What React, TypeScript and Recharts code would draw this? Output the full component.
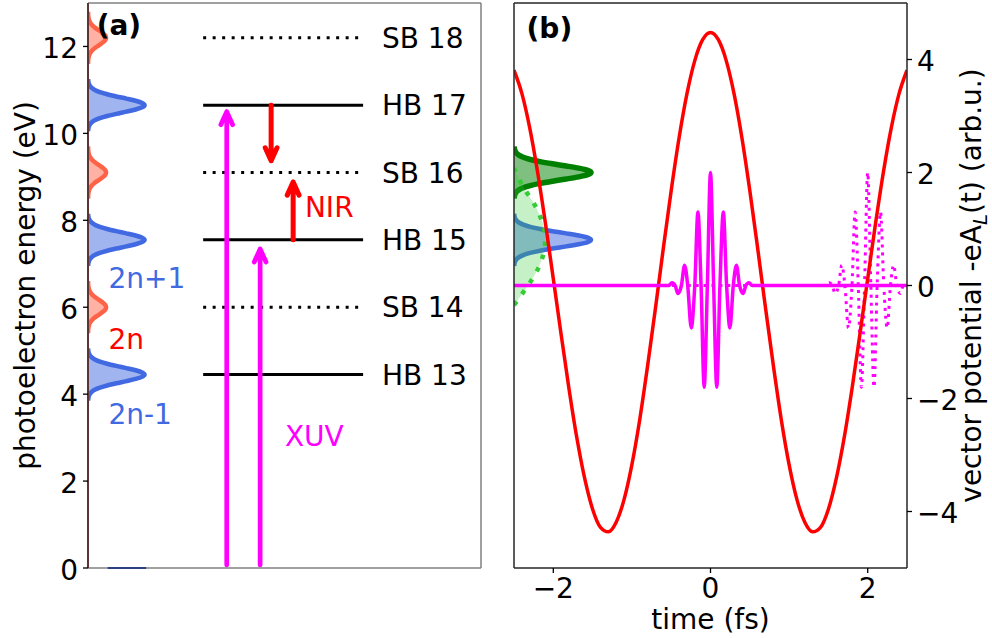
import React from 'react';
import { ComposedChart, Area, Line, Scatter, XAxis, YAxis, ReferenceLine } from 'recharts';

const W = 992;
const H = 638;
const FONT = 'DejaVu Sans';
const FS = 28;

const BLUE = '#4169e1';
const TOMATO = '#ff6347';
const RED = '#ff0000';
const MAGENTA = '#ff00ff';
const GREEN = '#008000';
const LIME = '#32cd32';

// ---------------- Panel (a) data ----------------
const energyTicks = [0, 2, 4, 6, 8, 10, 12];
const harmonicEnergies = [4.45, 7.55, 10.65];
const harmonicNames = ['HB 13', 'HB 15', 'HB 17'];
const sidebandEnergies = [6.0, 9.1, 12.2];
const sidebandNames = ['SB 14', 'SB 16', 'SB 18'];
const peakOffsets = [-0.6, -0.5, -0.4, -0.35, -0.3, -0.25, -0.2, -0.15, -0.1, -0.05, 0, 0.05, 0.1, 0.15, 0.2, 0.25, 0.3, 0.35, 0.4, 0.5, 0.6];
const peakShape = [0.002, 0.013, 0.063, 0.12, 0.211, 0.339, 0.5, 0.678, 0.841, 0.958, 1, 0.958, 0.841, 0.678, 0.5, 0.339, 0.211, 0.12, 0.063, 0.013, 0.002];
const harmonicPeakHeightA = 1.44;
const sidebandPeakHeightA = 0.46;
const baselineSegment = [0.5, 1.48];

const xuvArrowX = [3.53, 4.38];
const xuvArrowFrom = [0.07, 0.07];
const xuvArrowTo = [10.5, 7.34];
const nirArrowX = [4.66, 5.22];
const nirArrowFrom = [10.65, 7.55];
const nirArrowTo = [9.37, 8.88];

const annotationTextA = ['(a)', '2n+1', '2n', '2n-1', 'NIR', 'XUV'];
const annotationXA = [0.22, 0.52, 0.52, 0.52, 5.52, 5.01];
const annotationYA = [12.46, 6.67, 5.28, 3.54, 8.31, 3.04];
const annotationKindA = ['title', 'hb', 'sb', 'hb', 'nir', 'xuv'];

// ---------------- Panel (b) data ----------------
const timeTicks = [-2, 0, 2];
const potentialTicks = [-4, -2, 0, 2, 4];
const timeGrid = [-2.5, -2.4, -2.3, -2.2, -2.1, -2.0, -1.9, -1.8, -1.7, -1.6, -1.5, -1.4, -1.3, -1.2, -1.1, -1.0, -0.9, -0.8, -0.7, -0.6, -0.5, -0.4, -0.3, -0.2, -0.1, 0,
  0.1, 0.2, 0.3, 0.4, 0.5, 0.6, 0.7, 0.8, 0.9, 1.0, 1.1, 1.2, 1.3, 1.4, 1.5, 1.6, 1.7, 1.8, 1.9, 2.0, 2.1, 2.2, 2.3, 2.4, 2.5];
const vectorPotential = [3.81, 3.40, 2.79, 2.01, 1.10, 0.12, -0.87, -1.83, -2.70, -3.42, -3.96, -4.28, -4.36, -4.19, -3.79, -3.17, -2.37, -1.42, -0.40, 0.66, 1.68, 2.61, 3.39, 3.98, 4.35, 4.48,
  4.35, 3.98, 3.39, 2.61, 1.68, 0.66, -0.40, -1.42, -2.37, -3.17, -3.79, -4.19, -4.36, -4.28, -3.96, -3.42, -2.70, -1.83, -0.87, 0.12, 1.10, 2.01, 2.79, 3.40, 3.81];

const xuvOffsets = [-0.53, -0.49, -0.45, -0.415, -0.37, -0.33, -0.29, -0.245, -0.2, -0.16, -0.12, -0.08, -0.04, 0, 0.04, 0.08, 0.12, 0.163, 0.205, 0.247, 0.29, 0.33, 0.37, 0.415, 0.45, 0.49, 0.53];
const xuvField = [0, 0.05, 0, -0.14, 0, 0.36, 0, -0.75, 0, 1.3, 0, -1.8, 0, 2.0, 0, -1.8, 0, 1.3, 0, -0.75, 0, 0.36, 0, -0.14, 0, 0.05, 0];
const pumpDelay = 0;
const probeDelay = 2;

const spectrumHarmonicB = 7.55;
const spectrumSidebandB = 9.1;
const peakHeightB = 0.98;
const broadEnergies = [6.05, 6.3, 6.6, 6.9, 7.2, 7.5, 7.8, 8.1, 8.4, 8.7, 9.0, 9.2];
const broadAmplitude = [0, 0.1, 0.215, 0.31, 0.37, 0.395, 0.385, 0.33, 0.25, 0.14, 0.05, 0];

// ---------------- table builders ----------------
type Row = Record<string, number>;

function peakRows(key: string, center: number, height: number): Row[] {
  return peakOffsets.map((o, i) => ({ e: center + o, [key]: height * peakShape[i] }));
}

const harmonicKeysA = harmonicEnergies.map((_, i) => `hb${i}`);
const sidebandKeysA = sidebandEnergies.map((_, i) => `sb${i}`);
const tableA: Row[] = [
  ...harmonicEnergies.flatMap((c, i) => peakRows(harmonicKeysA[i], c, harmonicPeakHeightA)),
  ...sidebandEnergies.flatMap((c, i) => peakRows(sidebandKeysA[i], c, sidebandPeakHeightA)),
].sort((a, b) => a.e - b.e);

const tableB: Row[] = [
  ...peakRows('hb', spectrumHarmonicB, peakHeightB),
  ...peakRows('sb', spectrumSidebandB, peakHeightB),
  ...broadEnergies.map((e, i) => ({ e, lg: broadAmplitude[i] })),
].sort((a, b) => a.e - b.e);

const timeRows: Row[] = [
  ...timeGrid.map((t, i) => ({ t, red: vectorPotential[i] })),
  { t: -2.5, xuv: 0 },
  ...xuvOffsets.map((o, i) => ({ t: pumpDelay + o, xuv: xuvField[i] })),
  { t: 2.5, xuv: 0 },
  { t: -2.5, xuvd: 0 },
  ...xuvOffsets.filter((o) => probeDelay + o <= 2.5).map((o, i) => ({ t: probeDelay + o, xuvd: xuvField[i] })),
].sort((a, b) => a.t - b.t);

const levelStart = 2.93;
const levelEnd = 7.0;
const levelLabelX = 7.48;
const headDx = 0.15;
const headDy = 0.3;

function arrowPoints(x: number, from: number, to: number) {
  const s = to > from ? 1 : -1;
  return [
    { x, y: from },
    { x, y: to },
    { x: x - headDx, y: to - s * headDy },
    { x, y: to },
    { x: x + headDx, y: to - s * headDy },
  ];
}

const kindColor: Record<string, string> = { title: '#000', hb: BLUE, sb: RED, nir: RED, xuv: MAGENTA, level: '#000' };

const annotationsA = annotationTextA.map((text, i) => ({ x: annotationXA[i], y: annotationYA[i], text, kind: annotationKindA[i] }));
const levelLabels = [
  ...harmonicEnergies.map((e, i) => ({ x: levelLabelX, y: e, text: harmonicNames[i], kind: 'level' })),
  ...sidebandEnergies.map((e, i) => ({ x: levelLabelX, y: e, text: sidebandNames[i], kind: 'level' })),
];
const annotationsB = [{ t: -2.34, v: 4.54, text: '(b)', kind: 'title' }];

const fmt = (v: number) => (v < 0 ? `\u2212${Math.abs(v)}` : `${v}`);

const NoShape = () => null;

const TextShape = (p: any) => {
  const k = p.payload.kind;
  const isTitle = k === 'title';
  return (
    <text
      x={p.cx}
      y={p.cy}
      dy={isTitle ? '0.315em' : '0.36em'}
      textAnchor="start"
      fontFamily={FONT}
      fontSize={FS}
      fontWeight={isTitle ? 'bold' : 'normal'}
      fill={kindColor[k]}
    >
      {p.payload.text}
    </text>
  );
};

const tickText = (anchor: 'start' | 'middle' | 'end', dy: string) => (p: any) => (
  <text x={p.x} y={p.y} dy={dy} textAnchor={anchor} fontFamily={FONT} fontSize={FS} fill="#000">
    {fmt(p.payload.value)}
  </text>
);

const LeftLabel = (p: any) => {
  const vb = p.viewBox;
  const x = vb.x + 35;
  const y = vb.y + vb.height / 2;
  return (
    <text transform={`translate(${x},${y}) rotate(-90)`} textAnchor="middle" fontFamily={FONT} fontSize={FS} fill="#000">
      photoelectron energy (eV)
    </text>
  );
};

const RightLabel = (p: any) => {
  const vb = p.viewBox;
  const x = vb.x + 74;
  const y = vb.y + vb.height / 2;
  return (
    <text transform={`translate(${x},${y}) rotate(-90)`} textAnchor="middle" fontFamily={FONT} fontSize={FS} fill="#000">
      vector potential -eA
      <tspan fontStyle="italic" fontSize={20} dy={6}>L</tspan>
      <tspan dy={-6}>(t) (arb.u.)</tspan>
    </text>
  );
};

const BottomLabel = (p: any) => {
  const vb = p.viewBox;
  return (
    <text x={vb.x + vb.width / 2} y={vb.y + 61} textAnchor="middle" fontFamily={FONT} fontSize={FS} fill="#000">
      time (fs)
    </text>
  );
};

const layer: React.CSSProperties = { position: 'absolute', left: 0, top: 0 };
const SPINE_GRAY = '#808080';
const SPINE_LEFT_A = '#5b3434';
const SPINE_B = '#262626';

export default function App() {
  return (
    <div style={{ position: 'absolute', left: 0, top: 0, width: W, height: H, background: '#fff', fontFamily: FONT }}>
      {/* Panel (a): spectra peaks */}
      <div style={layer}>
        <ComposedChart width={W} height={H} layout="vertical" data={tableA} margin={{ top: 3, right: 511, bottom: 70, left: 88 }}>
          <XAxis type="number" domain={[0, 10]} hide allowDataOverflow />
          <YAxis type="number" dataKey="e" domain={[0, 13]} hide reversed allowDataOverflow />
          {harmonicKeysA.map((k) => (
            <Area key={k} dataKey={k} type="monotone" connectNulls stroke={BLUE} strokeWidth={4.5} fill={BLUE} fillOpacity={0.5} dot={false} activeDot={false} isAnimationActive={false} />
          ))}
          {sidebandKeysA.map((k) => (
            <Area key={k} dataKey={k} type="monotone" connectNulls stroke={TOMATO} strokeWidth={4.5} fill={TOMATO} fillOpacity={0.5} dot={false} activeDot={false} isAnimationActive={false} />
          ))}
        </ComposedChart>
      </div>

      {/* Panel (a): levels, arrows, axes */}
      <div style={layer}>
        <ComposedChart width={W} height={H} margin={{ top: 3, right: 511, bottom: 70, left: 0 }}>
          <XAxis type="number" dataKey="x" domain={[0, 10]} hide />
          <YAxis
            type="number"
            dataKey="y"
            domain={[0, 13]}
            ticks={energyTicks}
            interval={0}
            width={88}
            axisLine={{ stroke: SPINE_LEFT_A, strokeWidth: 2 }}
            tickLine={{ stroke: '#000', strokeWidth: 1.3 }}
            tickSize={5}
            tickMargin={5}
            tick={tickText('end', '0.42em')}
            label={{ content: LeftLabel }}
          />
          <ReferenceLine y={13} stroke={SPINE_GRAY} strokeWidth={1.5} />
          <ReferenceLine x={10} stroke={SPINE_GRAY} strokeWidth={1.5} />
          <ReferenceLine y={0} stroke={SPINE_GRAY} strokeWidth={1.5} />
          <Scatter data={baselineSegment.map((x) => ({ x, y: 0 }))} shape={NoShape} line={{ stroke: '#2c3f80', strokeWidth: 2 }} isAnimationActive={false} />
          {harmonicEnergies.map((e, i) => (
            <Scatter key={`hl${i}`} data={[{ x: levelStart, y: e }, { x: levelEnd, y: e }]} shape={NoShape} line={{ stroke: '#000', strokeWidth: 3 }} isAnimationActive={false} />
          ))}
          {sidebandEnergies.map((e, i) => (
            <Scatter key={`sl${i}`} data={[{ x: levelStart, y: e }, { x: levelEnd, y: e }]} shape={NoShape} line={{ stroke: '#000', strokeWidth: 3, strokeDasharray: '3 6.5' }} isAnimationActive={false} />
          ))}
          {xuvArrowX.map((x, i) => (
            <Scatter key={`xa${i}`} data={arrowPoints(x, xuvArrowFrom[i], xuvArrowTo[i])} shape={NoShape} line={{ stroke: MAGENTA, strokeWidth: 4.7, strokeLinejoin: 'round', strokeLinecap: 'round' }} isAnimationActive={false} />
          ))}
          {nirArrowX.map((x, i) => (
            <Scatter key={`na${i}`} data={arrowPoints(x, nirArrowFrom[i], nirArrowTo[i])} shape={NoShape} line={{ stroke: RED, strokeWidth: 5, strokeLinejoin: 'round', strokeLinecap: 'round' }} isAnimationActive={false} />
          ))}
          <Scatter data={levelLabels} shape={TextShape} isAnimationActive={false} />
          <Scatter data={annotationsA} shape={TextShape} isAnimationActive={false} />
        </ComposedChart>
      </div>

      {/* Panel (b): spectra peaks */}
      <div style={layer}>
        <ComposedChart width={W} height={H} layout="vertical" data={tableB} margin={{ top: 3, right: 85, bottom: 70, left: 514 }}>
          <XAxis type="number" domain={[0, 5]} hide allowDataOverflow />
          <YAxis type="number" dataKey="e" domain={[0, 13]} hide reversed allowDataOverflow />
          <Area dataKey="hb" type="monotone" connectNulls stroke={BLUE} strokeWidth={4.5} fill={BLUE} fillOpacity={0.5} dot={false} activeDot={false} isAnimationActive={false} />
          <Area dataKey="sb" type="monotone" connectNulls stroke={GREEN} strokeWidth={5.5} fill={GREEN} fillOpacity={0.5} dot={false} activeDot={false} isAnimationActive={false} />
          <Area dataKey="lg" type="monotone" connectNulls stroke="none" fill={LIME} fillOpacity={0.28} dot={false} activeDot={false} isAnimationActive={false} />
          <Area dataKey="lg" type="monotone" connectNulls stroke={LIME} strokeWidth={4.5} strokeDasharray="4.5 9" fill="none" fillOpacity={0} dot={false} activeDot={false} isAnimationActive={false} />
        </ComposedChart>
      </div>

      {/* Panel (b): time traces and axes */}
      <div style={layer}>
        <ComposedChart width={W} height={H} data={timeRows} margin={{ top: 3, right: 0, bottom: 0, left: 504 }}>
          <XAxis
            type="number"
            dataKey="t"
            domain={[-2.5, 2.5]}
            ticks={timeTicks}
            interval={0}
            height={70}
            allowDataOverflow
            axisLine={{ stroke: SPINE_B, strokeWidth: 1.5 }}
            tickLine={{ stroke: '#000', strokeWidth: 1.3 }}
            tickSize={5}
            tickMargin={5}
            tick={tickText('middle', '0.73em')}
            label={{ content: BottomLabel }}
          />
          <YAxis
            yAxisId="e"
            orientation="left"
            type="number"
            domain={[0, 13]}
            ticks={energyTicks}
            interval={0}
            width={10}
            axisLine={{ stroke: SPINE_B, strokeWidth: 1.5 }}
            tickLine={{ stroke: '#000', strokeWidth: 1.3 }}
            tickSize={5}
            tick={NoShape}
          />
          <YAxis
            yAxisId="v"
            orientation="right"
            type="number"
            dataKey="v"
            domain={[-5, 5]}
            ticks={potentialTicks}
            interval={0}
            width={85}
            allowDataOverflow
            axisLine={{ stroke: SPINE_B, strokeWidth: 1.5 }}
            tickLine={{ stroke: '#000', strokeWidth: 1.3 }}
            tickSize={5}
            tickMargin={5}
            tick={tickText('start', '0.42em')}
            label={{ content: RightLabel }}
          />
          <ReferenceLine yAxisId="v" y={5} stroke={SPINE_B} strokeWidth={1.5} />
          <Line yAxisId="v" dataKey="xuvd" type="monotone" connectNulls stroke={MAGENTA} strokeWidth={3} strokeDasharray="3 4.9" dot={false} activeDot={false} isAnimationActive={false} />
          <Line yAxisId="v" dataKey="red" type="monotone" connectNulls stroke={RED} strokeWidth={3.5} dot={false} activeDot={false} isAnimationActive={false} />
          <Line yAxisId="v" dataKey="xuv" type="monotone" connectNulls stroke={MAGENTA} strokeWidth={3.5} dot={false} activeDot={false} isAnimationActive={false} />
          <Scatter yAxisId="v" data={annotationsB} shape={TextShape} isAnimationActive={false} />
        </ComposedChart>
      </div>
    </div>
  );
}
